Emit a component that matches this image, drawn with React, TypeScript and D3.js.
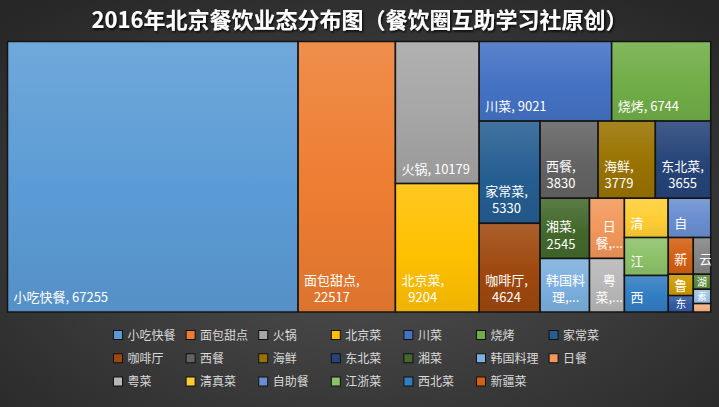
import React, { useMemo } from 'react';
import * as d3 from 'd3';

// ---- data ----
const TITLE = '2016年北京餐饮业态分布图（餐饮圈互助学习社原创）';
const categories = [
  '小吃快餐', '面包甜点', '火锅', '北京菜', '川菜', '烧烤', '家常菜',
  '咖啡厅', '西餐', '海鲜', '东北菜', '湘菜', '韩国料理', '日餐',
  '粤菜', '清真菜', '自助餐', '江浙菜', '西北菜', '新疆菜',
  '云南菜', '鲁菜', '东南亚菜', '湖北菜', '素食', '台湾菜',
];
const values = [
  67255, 22517, 10179, 9204, 9021, 6744, 5330,
  4624, 3830, 3779, 3655, 2545, 2260, 1797,
  1600, 1469, 1430, 1425, 1370, 785,
  547, 456, 351, 223, 213, 125,
];
const colors = [
  '#5B9BD5', '#ED7D31', '#A5A5A5', '#FFC000', '#4472C4', '#70AD47', '#255E91',
  '#9E480E', '#636363', '#997300', '#264478', '#43682B', '#7CAFDD', '#F1975A',
  '#B7B7B7', '#FFCD33', '#698ED0', '#8CC168', '#327DC2', '#D26012',
  '#848484', '#CC9A00', '#335AA1', '#5A8A39', '#9DC3E6', '#F4B183',
];
const LEGEND_COUNT = 20;
// Excel-like strip grouping used by the tiling function
const STRIP_SIZES = [1, 1, 2, 2, 2, 3, 2, 2, 2, 2, 2, 2, 1, 1, 1];

const W = 719;
const H = 407;
const PLOT = { x: 7.5, y: 41.5, w: 703.2, h: 270.5 };
const FONT = '"Noto Sans CJK SC", "Noto Sans", sans-serif';

function stripTile(parent: any, x0: number, y0: number, x1: number, y1: number) {
  const nodes = parent.children;
  let remaining = parent.value;
  let i = 0;
  let s = 0;
  while (i < nodes.length) {
    const size = STRIP_SIZES[s++] ?? 1;
    const kids = nodes.slice(i, i + size);
    const sum = d3.sum(kids, (d: any) => d.value);
    const row: any = { value: sum, children: kids };
    const dx = x1 - x0;
    const dy = y1 - y0;
    const k = remaining > 0 ? sum / remaining : 1;
    if (dx < dy) {
      const yy = y0 + dy * k;
      d3.treemapDice(row, x0, y0, x1, yy);
      y0 = yy;
    } else {
      const xx = x0 + dx * k;
      d3.treemapSlice(row, x0, y0, xx, y1);
      x0 = xx;
    }
    remaining -= sum;
    i += size;
  }
}

let _ctx: CanvasRenderingContext2D | null = null;
function measure(text: string, size: number): number {
  if (!_ctx) {
    const c = document.createElement('canvas');
    _ctx = c.getContext('2d');
  }
  if (!_ctx) return text.length * size;
  _ctx.font = `${size}px ${FONT}`;
  return _ctx.measureText(text).width;
}

const LABEL_SIZE = 13;
const LH = 17.5;

function labelLines(name: string, value: number, w: number, h: number): string[] {
  if (h < 10 || w < 10) return [];
  const avail = w - 10;
  const full = `${name}, ${value}`;
  const maxLines = Math.max(1, Math.floor((h - 12) / LH));
  if (measure(full, LABEL_SIZE) <= avail + 0.5) return [full];
  const tokens = [name + ',', String(value)];
  const lines: string[] = [];
  for (const t of tokens) {
    if (measure(t, LABEL_SIZE) <= avail + 0.5) {
      lines.push(t);
    } else {
      let cur = '';
      for (const ch of Array.from(t)) {
        if (cur && measure(cur + ch, LABEL_SIZE) > avail + 0.5) {
          lines.push(cur);
          cur = ch;
        } else cur += ch;
      }
      if (cur) lines.push(cur);
    }
  }
  if (lines.length <= maxLines) return lines;
  if (maxLines === 1) return [Array.from(name)[0]];
  const kept = lines.slice(0, maxLines);
  kept[maxLines - 1] = kept[maxLines - 1] + '...';
  return kept;
}

export default function App() {
  const leaves = useMemo(() => {
    const data = categories.map((c, i) => ({ name: c, value: values[i], color: colors[i] }));
    const root = d3
      .hierarchy<any>({ children: data })
      .sum((d: any) => d.value || 0)
      .sort((a, b) => (b.value || 0) - (a.value || 0));
    d3.treemap<any>().tile(stripTile as any).size([PLOT.w, PLOT.h]).round(false)(root);
    return root.leaves() as any[];
  }, []);

  const legendCols = 7;
  const legendX = d3.scalePoint<number>().domain(d3.range(legendCols)).range([113.5, 113.5 + 72.6 * 6]);
  const legendY = d3.scalePoint<number>().domain(d3.range(3)).range([335, 381.5]);

  return (
    <svg
      width={W}
      height={H}
      viewBox={`0 0 ${W} ${H}`}
      style={{ position: 'absolute', left: 0, top: 0, display: 'block' }}
    >
      <defs>
        <radialGradient id="bg" cx="50%" cy="58%" r="72%">
          <stop offset="0%" stopColor="#515151" />
          <stop offset="100%" stopColor="#272727" />
        </radialGradient>
        <filter id="tshadow" x="-5%" y="-30%" width="110%" height="160%">
          <feDropShadow dx="1.2" dy="1.6" stdDeviation="1.2" floodColor="#000" floodOpacity="0.85" />
        </filter>
        {leaves.map((d, i) => {
          const base = d3.color(d.data.color)!;
          const top = d3.interpolateRgb(d.data.color, '#ffffff')(0.13);
          const bot = d3.interpolateRgb(d.data.color, '#000000')(0.07);
          return (
            <linearGradient key={i} id={`g${i}`} x1="0" y1="0" x2="0" y2="1">
              <stop offset="0%" stopColor={top} />
              <stop offset="55%" stopColor={base.formatHex()} />
              <stop offset="100%" stopColor={bot} />
            </linearGradient>
          );
        })}
        {leaves.map((d, i) => (
          <clipPath key={i} id={`c${i}`}>
            <rect x={d.x0} y={d.y0} width={d.x1 - d.x0} height={d.y1 - d.y0} />
          </clipPath>
        ))}
      </defs>
      <rect x={0} y={0} width={W} height={H} fill="url(#bg)" />
      <text
        x={W / 2}
        y={28}
        textAnchor="middle"
        fontFamily={FONT}
        fontWeight={700}
        fontSize={22}
        fill="#ffffff"
        filter="url(#tshadow)"
      >
        {TITLE}
      </text>
      <g transform={`translate(${PLOT.x},${PLOT.y})`}>
        {leaves.map((d, i) => (
          <rect
            key={i}
            x={d.x0}
            y={d.y0}
            width={d.x1 - d.x0}
            height={d.y1 - d.y0}
            fill={`url(#g${i})`}
            stroke="#141414"
            strokeWidth={1.5}
          />
        ))}
        {leaves.map((d, i) => {
          const w = d.x1 - d.x0;
          const h = d.y1 - d.y0;
          const lines = labelLines(d.data.name, d.data.value, w, h);
          if (!lines.length) return null;
          const tiny = lines.length === 1 && h < 30;
          const fs = tiny ? Math.min(LABEL_SIZE, h * 0.66) : LABEL_SIZE;
          const bw = d3.max(lines, (l) => measure(l, fs)) || 0;
          const cx = d.x0 + (tiny ? Math.max(2, (w - bw) / 2) : 6) + bw / 2;
          let lastBase = d.y1 - 10;
          if (tiny) lastBase = d.y0 + h / 2 + fs * 0.42;
          return (
            <g key={i} clipPath={`url(#c${i})`}>
              {lines.map((l, j) => (
                <text
                  key={j}
                  x={cx}
                  y={lastBase - (lines.length - 1 - j) * LH}
                  textAnchor="middle"
                  fontFamily={FONT}
                  fontSize={fs}
                  fill="#ffffff"
                >
                  {l}
                </text>
              ))}
            </g>
          );
        })}
      </g>
      <g>
        {categories.slice(0, LEGEND_COUNT).map((c, i) => {
          const col = i % legendCols;
          const row = Math.floor(i / legendCols);
          const x = legendX(col)!;
          const y = legendY(row)!;
          return (
            <g key={c}>
              <rect x={x} y={y - 4.5} width={9} height={9} fill={colors[i]} stroke="#111" strokeWidth={1} />
              <text x={x + 14} y={y + 4.5} fontFamily={FONT} fontSize={12} fill="#d9d9d9">
                {c}
              </text>
            </g>
          );
        })}
      </g>
    </svg>
  );
}
